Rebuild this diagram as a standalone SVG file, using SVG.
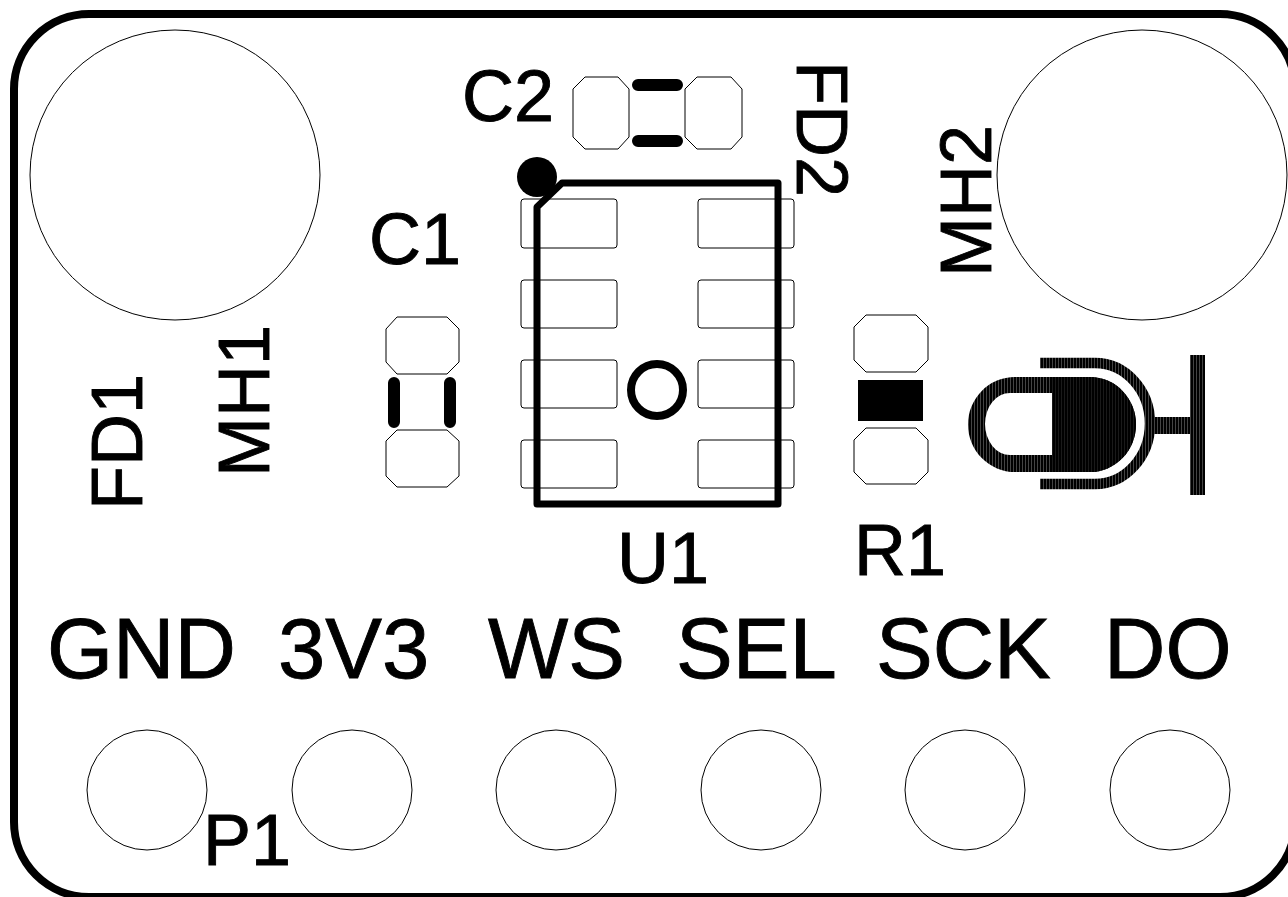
<svg xmlns="http://www.w3.org/2000/svg" width="1288" height="897" viewBox="0 0 1288 897">
<defs>
<pattern id="h" patternUnits="userSpaceOnUse" width="3" height="3"><rect width="3" height="3" fill="#444"/><rect width="2" height="3" fill="#000"/></pattern>
<pattern id="h2" patternUnits="userSpaceOnUse" width="3" height="3"><rect width="3" height="3" fill="#1a1a1a"/><rect width="2" height="3" fill="#000"/></pattern>
</defs>
<style>
.t{font-family:"Liberation Sans",Arial,sans-serif;font-size:72px;fill:#000;stroke:#000;stroke-width:.9}
.l{font-size:85px}
.th{fill:none;stroke:#000;stroke-width:1}
.b{fill:none;stroke:#000;stroke-width:7;stroke-linejoin:round;stroke-linecap:round}
.bar{stroke:#000;stroke-width:12;stroke-linecap:round;fill:none}
</style>
<rect width="1288" height="897" fill="#fff"/>
<rect id="board" x="14" y="14" width="1281" height="883" rx="75" fill="none" stroke="#000" stroke-width="8"/>
<g id="MH1"><circle class="th" cx="175" cy="175" r="145"/><text class="t" transform="translate(269 477) rotate(-90)">MH1</text></g>
<g id="MH2"><circle class="th" cx="1142" cy="175" r="145"/><text class="t" transform="translate(991 277) rotate(-90)">MH2</text></g>
<g id="FD1"><text class="t" transform="translate(142 510) rotate(-90)">FD1</text></g>
<g id="FD2"><text class="t" transform="translate(797 61) rotate(90)">FD2</text></g>
<g id="C2"><text class="t" x="462" y="121">C2</text>
<path class="th" d="M585 77H618L629 89V137L618 149H585L573 137V89ZM697 77H731L742 89V137L731 149H697L685 137V89Z"/>
<path class="bar" d="M638 85H677M638 141H677"/></g>
<g id="C1"><text class="t" x="369" y="264">C1</text>
<path class="th" d="M397 317H447L459 329V362L447 374H397L386 362V329ZM397 430H447L459 441V476L447 487H397L386 476V441Z"/>
<path class="bar" d="M394 383V422M450 383V422"/></g>
<g id="U1"><text class="t" x="617" y="583">U1</text>
<g class="th"><rect x="521" y="199" width="96" height="49" rx="3"/><rect x="521" y="280" width="96" height="48" rx="3"/><rect x="521" y="360" width="96" height="48" rx="3"/><rect x="521" y="440" width="96" height="48" rx="3"/><rect x="698" y="199" width="96" height="49" rx="3"/><rect x="698" y="280" width="96" height="48" rx="3"/><rect x="698" y="360" width="96" height="48" rx="3"/><rect x="698" y="440" width="96" height="48" rx="3"/></g>
<path class="b" d="M537 207L562 183H778V504H537Z"/>
<circle cx="537" cy="177" r="20"/>
<circle cx="657" cy="390" r="26" fill="none" stroke="#000" stroke-width="8"/></g>
<g id="R1"><text class="t" x="854" y="575">R1</text>
<path class="th" d="M866 315H916L928 327V360L916 372H866L854 360V327ZM866 428H916L928 440V472L916 484H866L854 472V440Z"/>
<rect x="858" y="380" width="65" height="41"/></g>
<g id="MIC">
<path d="M1040 363H1095A55 60.500 0 0 1 1095 484H1040" fill="none" stroke="url(#h)" stroke-width="10.500"/>
<path d="M1015 377H1090A46 47.500 0 0 1 1090 472H1015A47 47.500 0 0 1 1015 377Z M1010 393A25 31 0 0 0 1010 455H1052V393Z" fill="url(#h)" fill-rule="evenodd"/>
<path d="M1052 377H1090A46 47.500 0 0 1 1090 472H1052Z" fill="url(#h2)"/>
<rect x="1153" y="417" width="37" height="17" fill="url(#h)"/>
<rect x="1190" y="355" width="15" height="140" fill="url(#h)"/>
</g>
<g id="P1">
<circle class="th" cx="147" cy="790" r="60"/><circle class="th" cx="352" cy="790" r="60"/><circle class="th" cx="556" cy="790" r="60"/><circle class="th" cx="761" cy="790" r="60"/><circle class="th" cx="965" cy="790" r="60"/><circle class="th" cx="1170" cy="790" r="60"/>
<text class="t" x="203" y="865">P1</text>
<text class="t l" x="47" y="678">GND</text><text class="t l" x="278" y="678">3V3</text><text class="t l" x="488" y="678">WS</text><text class="t l" x="676" y="678">SEL</text><text class="t l" x="876" y="678">SCK</text><text class="t l" x="1104" y="678">DO</text>
</g>
</svg>
